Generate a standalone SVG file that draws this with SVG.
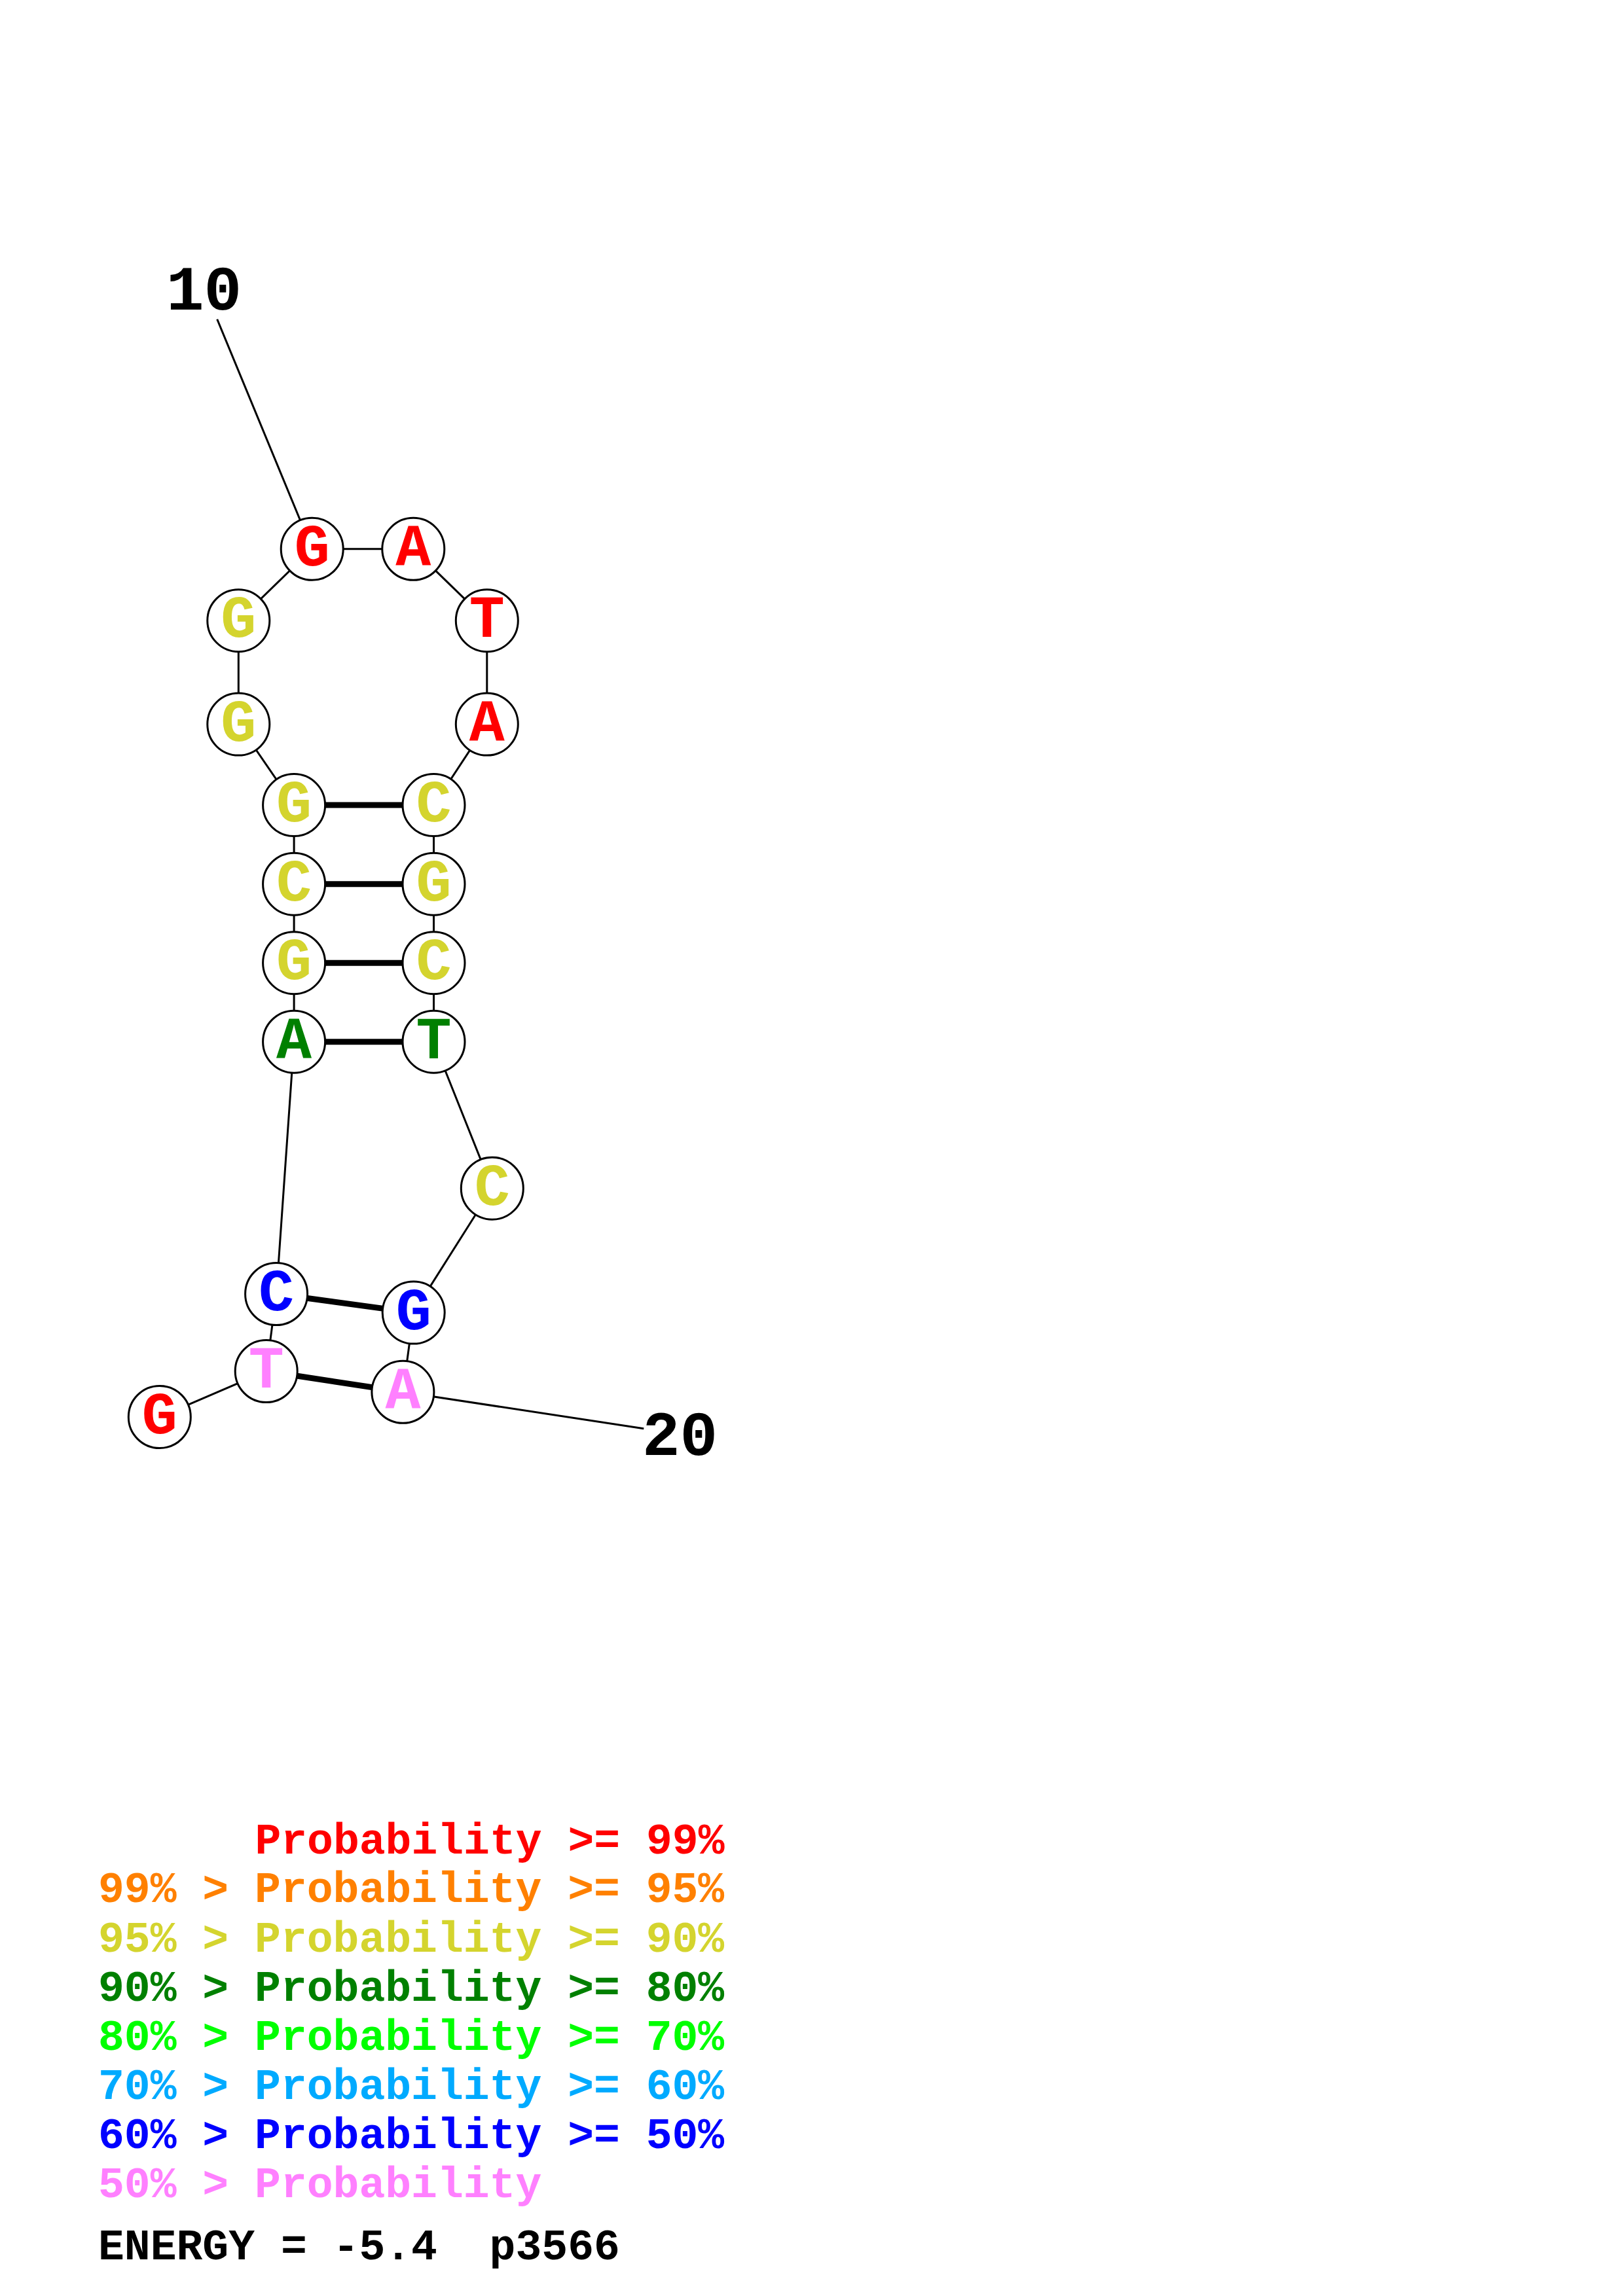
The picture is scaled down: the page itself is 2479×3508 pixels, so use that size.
<svg xmlns="http://www.w3.org/2000/svg" width="2479" height="3508" viewBox="0 0 2479 3508">
<style>
.bb{stroke:#000;stroke-width:3;fill:none}
.bp{stroke:#000;stroke-width:9;fill:none}
.nd circle{fill:#fff;stroke:#000;stroke-width:3}
.nd text{font-family:"Liberation Mono","Courier New",monospace;font-weight:bold;font-size:90px;text-anchor:middle}
.num{font-family:"Liberation Mono","Courier New",monospace;font-weight:bold;font-size:96px;text-anchor:middle;fill:#000}
.lg{font-family:"Liberation Mono","Courier New",monospace;font-weight:bold;font-size:66.4px;white-space:pre}
.r{fill:#ff0000}.o{fill:#ff8000}.y{fill:#d4d42e}.dg{fill:#008000}.g{fill:#00ff00}.lb{fill:#00aaff}.b{fill:#0000ff}.p{fill:#ff80ff}.k{fill:#000}
</style>
<rect width="2479" height="3508" fill="#fff"/>
<g id="connectors">
<line class="bb" x1="331.7" y1="487.8" x2="476.7" y2="838.8"/>
<line class="bb" x1="983.3" y1="2182.7" x2="615.4" y2="2126.8"/>
<polyline class="bb" points="243.8,2165 406.7,2095 422.1,1977 449.1,1591.7 449.1,1471.2 449.1,1350.7 449.1,1230.1 364.3,1106.6 364.3,948.2 476.7,838.8 631.3,838.8 743.8,948.2 743.8,1106.6 662.5,1230.1 662.5,1350.7 662.5,1471.2 662.5,1591.7 751.8,1815.7 631.7,2005.6 615.4,2126.8"/>
<line class="bp" x1="449.1" y1="1230.1" x2="662.5" y2="1230.1"/>
<line class="bp" x1="449.1" y1="1350.7" x2="662.5" y2="1350.7"/>
<line class="bp" x1="449.1" y1="1471.2" x2="662.5" y2="1471.2"/>
<line class="bp" x1="449.1" y1="1591.7" x2="662.5" y2="1591.7"/>
<line class="bp" x1="422.1" y1="1977" x2="631.7" y2="2005.6"/>
<line class="bp" x1="406.7" y1="2095" x2="615.4" y2="2126.8"/>
</g>
<g id="n1" class="nd"><circle cx="243.8" cy="2165" r="47.5"/><text class="r" x="243.8" y="2190">G</text></g>
<g id="n2" class="nd"><circle cx="406.7" cy="2095" r="47.5"/><text class="p" x="406.7" y="2120">T</text></g>
<g id="n3" class="nd"><circle cx="422.1" cy="1977" r="47.5"/><text class="b" x="422.1" y="2002">C</text></g>
<g id="n4" class="nd"><circle cx="449.1" cy="1591.7" r="47.5"/><text class="dg" x="449.1" y="1616.7">A</text></g>
<g id="n5" class="nd"><circle cx="449.1" cy="1471.2" r="47.5"/><text class="y" x="449.1" y="1496.2">G</text></g>
<g id="n6" class="nd"><circle cx="449.1" cy="1350.7" r="47.5"/><text class="y" x="449.1" y="1375.7">C</text></g>
<g id="n7" class="nd"><circle cx="449.1" cy="1230.1" r="47.5"/><text class="y" x="449.1" y="1255.1">G</text></g>
<g id="n8" class="nd"><circle cx="364.3" cy="1106.6" r="47.5"/><text class="y" x="364.3" y="1131.6">G</text></g>
<g id="n9" class="nd"><circle cx="364.3" cy="948.2" r="47.5"/><text class="y" x="364.3" y="973.2">G</text></g>
<g id="n10" class="nd"><circle cx="476.7" cy="838.8" r="47.5"/><text class="r" x="476.7" y="863.8">G</text></g>
<g id="n11" class="nd"><circle cx="631.3" cy="838.8" r="47.5"/><text class="r" x="631.3" y="863.8">A</text></g>
<g id="n12" class="nd"><circle cx="743.8" cy="948.2" r="47.5"/><text class="r" x="743.8" y="973.2">T</text></g>
<g id="n13" class="nd"><circle cx="743.8" cy="1106.6" r="47.5"/><text class="r" x="743.8" y="1131.6">A</text></g>
<g id="n14" class="nd"><circle cx="662.5" cy="1230.1" r="47.5"/><text class="y" x="662.5" y="1255.1">C</text></g>
<g id="n15" class="nd"><circle cx="662.5" cy="1350.7" r="47.5"/><text class="y" x="662.5" y="1375.7">G</text></g>
<g id="n16" class="nd"><circle cx="662.5" cy="1471.2" r="47.5"/><text class="y" x="662.5" y="1496.2">C</text></g>
<g id="n17" class="nd"><circle cx="662.5" cy="1591.7" r="47.5"/><text class="dg" x="662.5" y="1616.7">T</text></g>
<g id="n18" class="nd"><circle cx="751.8" cy="1815.7" r="47.5"/><text class="y" x="751.8" y="1840.7">C</text></g>
<g id="n19" class="nd"><circle cx="631.7" cy="2005.6" r="47.5"/><text class="b" x="631.7" y="2030.6">G</text></g>
<g id="n20" class="nd"><circle cx="615.4" cy="2126.8" r="47.5"/><text class="p" x="615.4" y="2151.8">A</text></g>
<g id="labels">
<text class="num" x="311.5" y="473">10</text>
<text class="num" x="1038.5" y="2223">20</text>
</g>
<g id="legend" class="lg">
<text class="r" x="389.4" y="2832">Probability &gt;= 99%</text>
<text class="o" x="150" y="2906">99% &gt; Probability &gt;= 95%</text>
<text class="y" x="150" y="2981.6">95% &gt; Probability &gt;= 90%</text>
<text class="dg" x="150" y="3056.5">90% &gt; Probability &gt;= 80%</text>
<text class="g" x="150" y="3131.7">80% &gt; Probability &gt;= 70%</text>
<text class="lb" x="150" y="3207">70% &gt; Probability &gt;= 60%</text>
<text class="b" x="150" y="3281.8">60% &gt; Probability &gt;= 50%</text>
<text class="p" x="150" y="3356.8">50% &gt; Probability</text>
<text class="k" x="150" y="3451.7" xml:space="preserve">ENERGY = -5.4  p3566</text>
</g>
</svg>
